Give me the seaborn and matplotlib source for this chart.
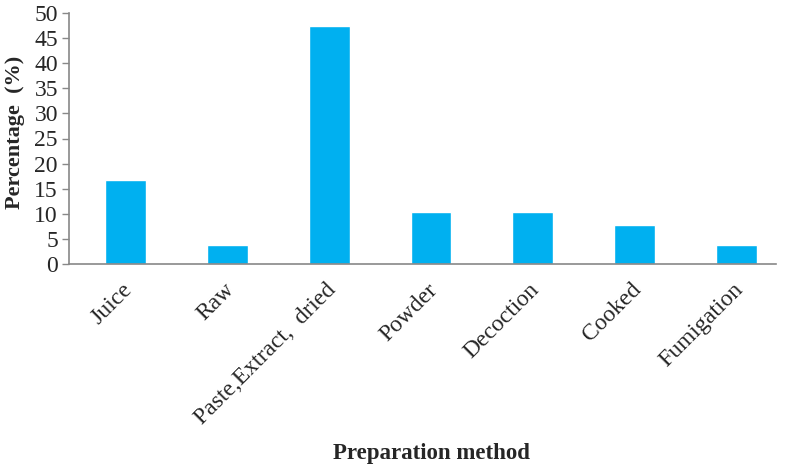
import matplotlib
matplotlib.use("Agg")
import matplotlib.pyplot as plt
import matplotlib.transforms as mtransforms
import seaborn as sns
import pandas as pd

categories = ["Juice", "Raw", "Paste,Extract,  dried", "Powder", "Decoction", "Cooked", "Fumigation"]
values = [16.67, 3.85, 47.44, 10.26, 10.26, 7.69, 3.85]
yticks = [0, 5, 10, 15, 20, 25, 30, 35, 40, 45, 50]

sns.set_theme(style="white")
plt.rcParams['font.family'] = ['Liberation Serif', 'DejaVu Serif']

df = pd.DataFrame({"method": categories, "pct": values})

fig = plt.figure(figsize=(7.87, 4.66), dpi=100)
ax = fig.add_axes([69/787, 1-264/466, (776-69)/787, (264-13)/466])
sns.barplot(data=df, x="method", y="pct", color="#00B0F0", saturation=1, width=0.40, ax=ax)

ax.set_ylim(0, 50)
ax.set_yticks(yticks)
ax.set_yticklabels([str(t) for t in yticks], fontsize=17)
ax.set_xticks(range(len(categories)))
ax.set_xticklabels(categories, rotation=45, ha="right", rotation_mode="anchor", fontsize=17)
ax.set_xlim(-0.556, 6.39)
ax.tick_params(axis='y', direction='out', length=5, color='#888888', width=1, pad=3, left=True)
ax.tick_params(axis='x', length=0, pad=11)
offset = mtransforms.ScaledTranslation(-4/100, 0, fig.dpi_scale_trans)
for lab in ax.get_xticklabels():
    lab.set_transform(lab.get_transform() + offset)
for s in ["top", "right"]:
    ax.spines[s].set_visible(False)
for s in ["left", "bottom"]:
    ax.spines[s].set_color("#888888")
    ax.spines[s].set_linewidth(1.2)
ax.set_ylabel("Percentage  (%)", fontsize=16, fontweight="bold")
ax.yaxis.set_label_coords(-0.062, 0.526)
ax.set_xlabel("")
fig.text(431/787, 1-453/466, "Preparation method", ha="center", va="center", fontsize=16.5, fontweight="bold")

fig.savefig("out.png", dpi=100)
